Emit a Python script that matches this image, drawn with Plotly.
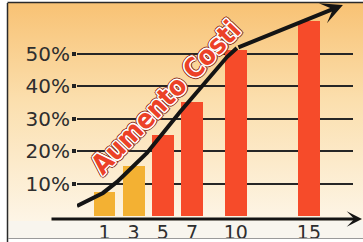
import base64
import plotly.graph_objects as go

# ---- data ----
categories = [1, 3, 5, 7, 10, 15]
tick_labels = ["1", "3", "5", "7", "10", "15"]
bar_values = [7.5, 15.5, 25, 35, 51, 60]
bar_colors = ["#f3b133", "#f3b133", "#f64b2a", "#f64b2a", "#f64b2a", "#f64b2a"]
trend_x = [-0.88, 0.9, 1.86, 3.91, 6.17, 8.02, 9.39, 10.07]
trend_y = [3.1, 7.1, 10.5, 19.4, 32.0, 41.8, 48.9, 51.7]
arrow_end = (17.33, 64.9)
y_ticks = [10, 20, 30, 40, 50]
y_tick_labels = ["10%", "20%", "30%", "40%", "50%"]
title_text = "Aumento Costi"

W, H = 363, 242

def px(x):
    return x / W

def py(y):
    return (H - y) / H

svg = ('<svg xmlns="http://www.w3.org/2000/svg" width="100" height="100" viewBox="0 0 100 100" '
       'preserveAspectRatio="none"><defs><linearGradient id="g" x1="0" y1="0" x2="0" y2="1">'
       '<stop offset="0" stop-color="#f8c274"/><stop offset="0.45" stop-color="#fbdfae"/>'
       '<stop offset="1" stop-color="#fdf5e6"/></linearGradient></defs>'
       '<rect width="100" height="100" fill="url(#g)"/></svg>')
src = "data:image/svg+xml;base64," + base64.b64encode(svg.encode()).decode()

w = "#ffffff"
d = "#8a3322"
shadow = ", ".join(
    [f"{a}px {b}px 0 {w}" for a, b in [(-1.1, -1.1), (1.1, -1.1), (-1.1, 1.1), (1.1, 1.1),
                                        (0, 1.4), (0, -1.4), (1.4, 0), (-1.4, 0)]]
    + [f"{a}px {b}px 0.5px {d}" for a, b in [(-1.8, -1.8), (1.8, -1.8), (-1.8, 1.8), (2.0, 2.0),
                                             (0, 2.4), (0, -2.4), (2.4, 0), (-2.4, 0)]]
)

fig = go.Figure()
fig.add_trace(go.Bar(x=categories, y=bar_values, width=1.5,
                     marker=dict(color=bar_colors, line=dict(width=0)),
                     hoverinfo="skip"))
fig.add_trace(go.Scatter(x=trend_x, y=trend_y, mode="lines",
                         line=dict(color="#141414", width=4),
                         hoverinfo="skip", cliponaxis=False))

fig.add_annotation(x=arrow_end[0], y=arrow_end[1], ax=trend_x[-1], ay=trend_y[-1],
                   xref="x", yref="y", axref="x", ayref="y", text="",
                   showarrow=True, arrowhead=3, arrowsize=0.9, arrowwidth=4,
                   arrowcolor="#141414", standoff=0, startstandoff=0)

# x axis arrow
fig.add_annotation(x=px(362), y=py(219), xref="paper", yref="paper",
                   ax=-312, ay=0, axref="pixel", ayref="pixel", text="",
                   showarrow=True, arrowhead=3, arrowsize=0.85, arrowwidth=3,
                   arrowcolor="#141414", standoff=0)

fig.add_annotation(x=px(165), y=py(97), xref="paper", yref="paper",
                   text="<b>" + title_text + "</b>", showarrow=False,
                   textangle=-46, xanchor="center", yanchor="middle",
                   font=dict(family="DejaVu Sans Condensed", size=27, color="#ec4128", shadow=shadow))

fig.update_layout(
    width=W, height=H,
    margin=dict(l=0, r=0, t=0, b=0),
    paper_bgcolor="#ffffff",
    plot_bgcolor="rgba(0,0,0,0)",
    showlegend=False,
    bargap=0,
    images=[dict(source=src, xref="paper", yref="paper", x=px(8), y=py(3),
                 sizex=px(363) - px(8), sizey=py(3) - py(221),
                 xanchor="left", yanchor="top", sizing="stretch", layer="below")],
    shapes=[
        dict(type="rect", xref="paper", yref="paper", x0=px(8), x1=px(363),
             y0=py(238), y1=py(221), fillcolor="#f8f5ee", line=dict(width=0), layer="below"),
        dict(type="line", xref="paper", yref="paper", x0=px(7.5), x1=px(7.5),
             y0=py(242), y1=py(3), line=dict(color="#2a2a2a", width=1.5)),
        dict(type="line", xref="paper", yref="paper", x0=px(7.5), x1=px(363),
             y0=py(2.5), y1=py(2.5), line=dict(color="#2a2a2a", width=1.5)),
        dict(type="line", xref="paper", yref="paper", x0=px(8), x1=px(363),
             y0=py(238.5), y1=py(238.5), line=dict(color="#9a9a9a", width=1)),
    ],
    xaxis=dict(domain=[px(77), px(353)], range=[-0.88, 18.02],
               tickvals=categories, ticktext=tick_labels, ticks="",
               showgrid=False, zeroline=False, showline=False,
               tickfont=dict(family="DejaVu Sans", size=19, color="#2e2e2e")),
    yaxis=dict(domain=[py(219), 1], range=[-0.92, 66.46],
               tickvals=y_ticks, ticktext=y_tick_labels,
               ticks="outside", ticklen=4, tickwidth=4, tickcolor="#222",
               ticklabelstandoff=-2,
               showgrid=True, gridcolor="#262626", gridwidth=1.5,
               zeroline=False, showline=False,
               tickfont=dict(family="DejaVu Sans", size=20, color="#2e2e2e")),
)

fig.write_html("out.html", config={"displayModeBar": False},
               post_script="document.body.style.margin='0';document.body.style.overflow='hidden';")
